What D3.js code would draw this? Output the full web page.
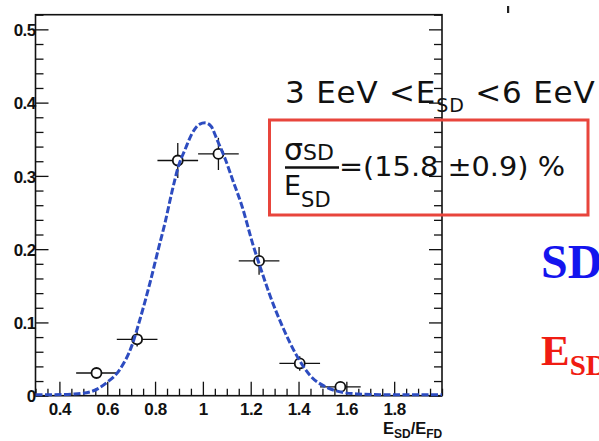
<!DOCTYPE html>
<html>
<head>
<meta charset="utf-8">
<script src="https://cdn.jsdelivr.net/npm/d3@7"></script>
<style>
  html, body { margin: 0; padding: 0; background: #fff; }
  svg { display: block; }
</style>
</head>
<body>
<svg id="chart" width="599" height="441"></svg>
<script>
// Measured ratio distribution (bin centres, fraction of events, errors)
const binCenters = [0.555, 0.725, 0.895, 1.065, 1.235, 1.405, 1.575];
const fractions  = [0.031, 0.077, 0.321, 0.330, 0.184, 0.044, 0.012];
const xErrors    = [0.085, 0.085, 0.085, 0.085, 0.085, 0.085, 0.085];
const yErrors    = [0.006, 0.010, 0.024, 0.022, 0.019, 0.010, 0.005];

// Fitted resolution curve, sampled
const fitX = [0.30, 0.37, 0.46, 0.53, 0.60, 0.654, 0.703, 0.737, 0.779, 0.814, 0.842, 0.870,
              0.898, 0.926, 0.954, 0.985, 1.010, 1.035, 1.058, 1.093, 1.128, 1.163, 1.211,
              1.239, 1.281, 1.337, 1.393, 1.449, 1.518, 1.588, 1.649, 1.75, 2.0];
const fitY = [0.000, 0.000, 0.001, 0.004, 0.017, 0.035, 0.067, 0.103, 0.153, 0.199, 0.235, 0.276,
              0.312, 0.335, 0.356, 0.369, 0.371, 0.366, 0.349, 0.322, 0.290, 0.258, 0.203,
              0.175, 0.135, 0.090, 0.053, 0.026, 0.010, 0.003, 0.001, 0.000, 0.000];

// Axis ticks and labels
const xMajorTicks = [0.4, 0.6, 0.8, 1.0, 1.2, 1.4, 1.6, 1.8];
const xTickLabels = ["0.4", "0.6", "0.8", "1", "1.2", "1.4", "1.6", "1.8"];
const yMajorTicks = [0, 0.1, 0.2, 0.3, 0.4, 0.5];
const yTickLabels = ["0", "0.1", "0.2", "0.3", "0.4", "0.5"];

const svg = d3.select("#chart");
const frame = { left: 35.5, right: 442, top: 14.7, bottom: 395.7 };

const x = d3.scaleLinear().domain([0.3, 2.0]).range([frame.left, frame.right]);
const y = d3.scaleLinear().domain([0, 0.52]).range([frame.bottom, frame.top]);

svg.append("rect").attr("width", 599).attr("height", 441).attr("fill", "#fff");

const tickFont = "'Liberation Sans', Arial, sans-serif";

// Frame
svg.append("rect")
  .attr("x", frame.left).attr("y", frame.top)
  .attr("width", frame.right - frame.left).attr("height", frame.bottom - frame.top)
  .attr("fill", "none").attr("stroke", "#111").attr("stroke-width", 1.6);

// Bottom axis: inward ticks
const xMinor = d3.range(0.30, 2.0001, 0.05).map(v => +v.toFixed(2));
const isXMajor = d => xMajorTicks.some(m => Math.abs(m - d) < 1e-6);
const axisBottom = d3.axisBottom(x).tickValues(xMinor).tickSize(0).tickFormat("");
const gx = svg.append("g").attr("transform", `translate(0,${frame.bottom})`).call(axisBottom);
gx.select(".domain").remove();
gx.selectAll(".tick line").remove();
gx.selectAll(".tick text").remove();
gx.selectAll(".tick").append("line")
  .attr("y1", 0)
  .attr("y2", d => isXMajor(d) ? -14 : -7)
  .attr("stroke", "#111").attr("stroke-width", 1.3);
gx.selectAll(".tick").filter(isXMajor)
  .append("text")
  .attr("y", 19)
  .attr("fill", "#111")
  .attr("text-anchor", "middle")
  .style("font-family", tickFont).style("font-size", "17px").style("font-weight", "bold")
  .style("letter-spacing", "-0.4px")
  .text(d => xTickLabels[xMajorTicks.findIndex(m => Math.abs(m - d) < 1e-6)]);

// Left and right axes: inward ticks
const yMinor = d3.range(0, 0.5201, 0.02).map(v => +v.toFixed(2));
const isYMajor = d => yMajorTicks.some(m => Math.abs(m - d) < 1e-6);
const axisLeft = d3.axisLeft(y).tickValues(yMinor).tickSize(0).tickFormat("");
const gy = svg.append("g").attr("transform", `translate(${frame.left},0)`).call(axisLeft);
gy.select(".domain").remove();
gy.selectAll(".tick line").remove();
gy.selectAll(".tick text").remove();
gy.selectAll(".tick").append("line")
  .attr("x1", 0).attr("x2", d => isYMajor(d) ? 13 : 8)
  .attr("stroke", "#111").attr("stroke-width", 1.3);
gy.selectAll(".tick").filter(isYMajor).append("text")
  .attr("x", 0).attr("dy", "0.36em")
  .attr("fill", "#111").attr("text-anchor", "end")
  .style("font-family", tickFont).style("font-size", "17px").style("font-weight", "bold")
  .style("letter-spacing", "-0.6px")
  .text(d => yTickLabels[yMajorTicks.findIndex(m => Math.abs(m - d) < 1e-6)]);

const axisRight = d3.axisRight(y).tickValues(yMinor).tickSize(0).tickFormat("");
const gr = svg.append("g").attr("transform", `translate(${frame.right},0)`).call(axisRight);
gr.select(".domain").remove();
gr.selectAll(".tick line").remove();
gr.selectAll(".tick text").remove();
gr.selectAll(".tick").append("line")
  .attr("x1", 0).attr("x2", d => isYMajor(d) ? -13 : -8)
  .attr("stroke", "#111").attr("stroke-width", 1.3);

// Axis title E_SD/E_FD
const xt = svg.append("text")
  .attr("x", 383).attr("y", 433.5)
  .attr("fill", "#111")
  .style("font-family", tickFont).style("font-size", "16.5px").style("font-weight", "bold");
xt.append("tspan").text("E");
xt.append("tspan").attr("dy", 4).style("font-size", "12px").text("SD");
xt.append("tspan").attr("dy", -4).text("/E");
xt.append("tspan").attr("dy", 4).style("font-size", "12px").text("FD");

// Points with errors
const pts = binCenters.map((c, i) => ({ x: c, y: fractions[i], ex: xErrors[i], ey: yErrors[i] }));
const gp = svg.append("g");
gp.selectAll("line.ex").data(pts).join("line").attr("class", "ex")
  .attr("x1", d => x(d.x - d.ex)).attr("x2", d => x(d.x + d.ex))
  .attr("y1", d => y(d.y)).attr("y2", d => y(d.y))
  .attr("stroke", "#111").attr("stroke-width", 1.3);
gp.selectAll("line.ey").data(pts).join("line").attr("class", "ey")
  .attr("x1", d => x(d.x)).attr("x2", d => x(d.x))
  .attr("y1", d => y(d.y - d.ey)).attr("y2", d => y(d.y + d.ey))
  .attr("stroke", "#111").attr("stroke-width", 1.3);
gp.selectAll("circle").data(pts).join("circle")
  .attr("cx", d => x(d.x)).attr("cy", d => y(d.y)).attr("r", 5)
  .attr("fill", "#fff").attr("stroke", "#111").attr("stroke-width", 1.8);

// Fitted curve, dashed
const fitPts = fitX.map((v, i) => [v, fitY[i]]);
svg.append("path")
  .datum(fitPts)
  .attr("d", d3.line().x(d => x(d[0])).y(d => y(d[1]) - 1).curve(d3.curveMonotoneX))
  .attr("fill", "none")
  .attr("stroke", "#2d4cc0")
  .attr("stroke-width", 3)
  .attr("stroke-dasharray", "7,2.5");

// Energy range annotation
const annFont = "'DejaVu Sans', Verdana, sans-serif";
const title = svg.append("text")
  .attr("x", 285).attr("y", 103)
  .attr("fill", "#111")
  .style("font-family", annFont).style("font-size", "31px")
  .style("letter-spacing", "0.8px");
title.append("tspan").text("3 EeV <E");
title.append("tspan").attr("dy", 9).style("font-size", "19px").text("SD");
title.append("tspan").attr("dy", -9).text(" <6 EeV");

// Resolution box
svg.append("rect")
  .attr("x", 269.5).attr("y", 120).attr("width", 318.5).attr("height", 95)
  .attr("fill", "none").attr("stroke", "#e8453c").attr("stroke-width", 3);

const num = svg.append("text").attr("x", 284).attr("y", 160).attr("fill", "#111")
  .style("font-family", annFont).style("font-size", "30px");
num.append("tspan").text("σ");
num.append("tspan").style("font-size", "22px").text("SD");

svg.append("line")
  .attr("x1", 285).attr("x2", 339).attr("y1", 167.5).attr("y2", 167.5)
  .attr("stroke", "#111").attr("stroke-width", 2.6);

const den = svg.append("text").attr("x", 284).attr("y", 195).attr("fill", "#111")
  .style("font-family", annFont).style("font-size", "27px");
den.append("tspan").text("E");
den.append("tspan").attr("dy", 12).style("font-size", "21px").text("SD");

svg.append("text")
  .attr("x", 339).attr("y", 175.5).attr("fill", "#111")
  .attr("textLength", 226).attr("lengthAdjust", "spacingAndGlyphs")
  .style("font-family", annFont).style("font-size", "26px")
  .text("=(15.8 ±0.9) %");

// Side labels (run past the right edge)
const serif = "'Liberation Serif', 'Times New Roman', serif";
svg.append("text")
  .attr("x", 541).attr("y", 278).attr("fill", "#1414ee")
  .style("font-family", serif).style("font-size", "48px").style("font-weight", "bold")
  .text("SD");
const es = svg.append("text")
  .attr("x", 541).attr("y", 365).attr("fill", "#f01c12")
  .style("font-family", serif).style("font-size", "43px").style("font-weight", "bold");
es.append("tspan").text("E");
es.append("tspan").attr("dy", 10).style("font-size", "29px").text("SD");

// small marker at top
svg.append("rect").attr("x", 507).attr("y", 6).attr("width", 2.2).attr("height", 7).attr("fill", "#222");
</script>
</body>
</html>
